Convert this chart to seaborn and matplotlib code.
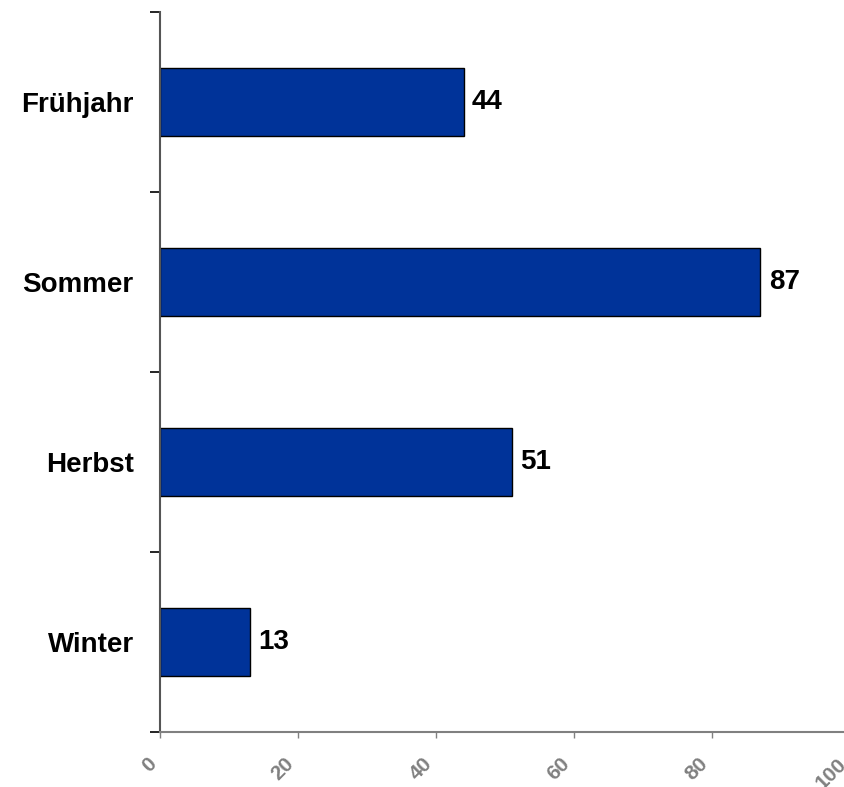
import matplotlib
matplotlib.use("Agg")
import matplotlib.pyplot as plt
import matplotlib.transforms as mtransforms
import seaborn as sns
import pandas as pd

seasons = ["Frühjahr", "Sommer", "Herbst", "Winter"]
counts = [44, 87, 51, 13]
x_ticks = [0, 20, 40, 60, 80, 100]

df = pd.DataFrame({"Jahreszeit": seasons, "Anzahl": counts})

sns.set_style("white")
plt.rcParams["font.family"] = ["Liberation Sans", "DejaVu Sans"]

fig = plt.figure(figsize=(8.44, 7.87), dpi=100)
ax = fig.add_axes([160 / 844, 1 - 732 / 787, 690 / 844, 720 / 787])

sns.barplot(x="Anzahl", y="Jahreszeit", data=df, orient="h", color="#003399",
            edgecolor="black", linewidth=1, width=0.38, saturation=1, ax=ax)

ax.set_xlim(0, 100)
ax.set_ylim(3.5, -0.5)
ax.set_xlabel("")
ax.set_ylabel("")

# value labels next to the bars
for c in ax.containers:
    texts = ax.bar_label(c, labels=[str(v) for v in counts], padding=6,
                         fontsize=20, fontweight="bold", color="black")
    for t in texts:
        t.set_va("center")

# spines
for s in ["top", "right"]:
    ax.spines[s].set_visible(False)
ax.spines["left"].set_color("#555555")
ax.spines["left"].set_linewidth(1.5)
ax.spines["bottom"].set_color("#808080")
ax.spines["bottom"].set_linewidth(1.5)

# y axis: labels at centers, tick marks at category boundaries
ax.set_yticks(range(len(seasons)))
ax.set_yticklabels(seasons, fontsize=20, fontweight="bold", color="black")
ax.set_yticks([i - 0.5 for i in range(len(seasons) + 1)], minor=True)
ax.tick_params(axis="y", which="major", length=0, pad=19)
ax.tick_params(axis="y", which="minor", length=7, width=1.2, color="black",
               direction="out", left=True)

# x axis: gray rotated labels
ax.set_xticks(x_ticks)
ax.set_xticklabels([str(t) for t in x_ticks], fontsize=15, fontweight="bold",
                   color="#808080", rotation=45, ha="right", va="center",
                   rotation_mode="anchor")
ax.tick_params(axis="x", which="major", length=4, width=1, color="#808080",
               direction="out", bottom=True, pad=17)
shift = mtransforms.ScaledTranslation(-7 / 100, 0, fig.dpi_scale_trans)
for lbl in ax.get_xticklabels():
    lbl.set_transform(lbl.get_transform() + shift)

fig.savefig("out.png", dpi=100)
